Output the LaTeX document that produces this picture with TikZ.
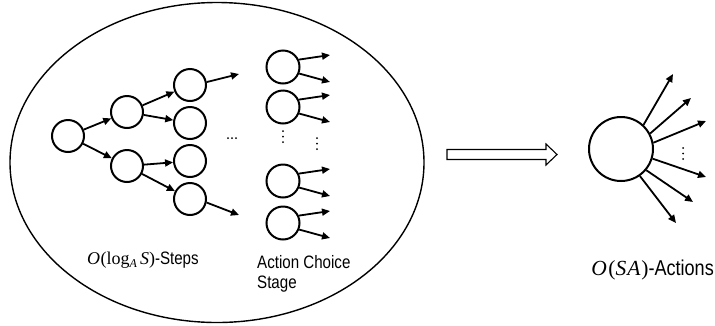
\documentclass[tikz,border=0pt]{standalone}
\usepackage[no-math]{fontspec}
\setmainfont[FakeStretch=0.84]{Liberation Sans}
\newfontfamily\mserif{Liberation Serif}
\newcommand{\myit}[1]{{\mserif\itshape #1}}
\newcommand{\myup}[1]{{\mserif #1}}
\usetikzlibrary{arrows.meta}
\begin{document}
\begin{tikzpicture}[x=1pt,y=-1pt,
  st/.style={circle,draw,line width=2pt,minimum size=32pt,inner sep=0pt},
  arr/.style={line width=1.8pt,-{Triangle[length=8pt,width=7pt]}},
  lab/.style={font=\fontsize{18}{20}\selectfont,inner sep=0pt}]
\useasboundingbox (0,0) rectangle (715,325);
% ellipse
\draw[line width=1.4pt] (217,162.5) ellipse [x radius=207, y radius=160];
% tree
\node[st] (r) at (68,136) {};
\node[st] (u) at (127,112) {};
\node[st] (d) at (127,166) {};
\node[st] (uu) at (190,85) {};
\node[st] (ud) at (190,123) {};
\node[st] (du) at (190,161) {};
\node[st] (dd) at (190,199) {};
\draw[arr] (r) -- (u);
\draw[arr] (r) -- (d);
\draw[arr] (u) -- (uu);
\draw[arr] (u) -- (ud);
\draw[arr] (d) -- (du);
\draw[arr] (d) -- (dd);
\coordinate (t1) at (239,74);
\coordinate (t2) at (239,215);
\draw[arr] (uu.10) -- (t1);
\draw[arr] (dd.-12) -- (t2);
\foreach \x in {228,232,236} \fill (\x,138) circle (1);
% action choice
\node[st,minimum size=33pt] (a1) at (283,67) {};
\node[st,minimum size=33pt] (a2) at (283,107) {};
\node[st,minimum size=33pt] (a3) at (283,181) {};
\node[st,minimum size=33pt] (a4) at (283,223) {};
\foreach \n/\y in {1/67,2/107,3/181,4/223}{
  \coordinate (p\n) at (330,\y-12);
  \coordinate (q\n) at (330,\y+15);
  \draw[arr] (a\n.25) -- (p\n);
  \draw[arr] (a\n.-22) -- (q\n);
}
\foreach \y in {131,136.5,142} \fill (283,\y) circle (1);
\foreach \y in {138,143.5,149} \fill (317,\y) circle (1);
% labels
\node[lab,anchor=west] (l1) at (87,260) {\myit{O}\myup{\kern0.5pt(log}\raisebox{-3.5pt}{\fontsize{12}{12}\selectfont\myit{A}}\,\myit{S}\myup{)}-Steps};
\node[lab,align=left,anchor=north west] (l2) at (257,255) {Action Choice\\Stage};
% hollow arrow
\draw[line width=1.1pt,fill=white] (447,149.5) -- (546,149.5) -- (546,144) -- (557,154.5) -- (546,165) -- (546,159.5) -- (447,159.5) -- cycle;
% big node
\node[circle,draw,line width=2pt,minimum size=64pt,inner sep=0pt] (b) at (621,149) {};
\coordinate (e1) at (673,74);
\coordinate (e2) at (691,98);
\coordinate (e3) at (706,121);
\coordinate (e4) at (706,177);
\coordinate (e5) at (693,202);
\coordinate (e6) at (676,223);
\draw[arr] (b.47) -- (e1);
\draw[arr] (b.28) -- (e2);
\draw[arr] (b.11) -- (e3);
\draw[arr] (b.-17) -- (e4);
\draw[arr] (b.-40) -- (e5);
\draw[arr] (b.-55) -- (e6);
\foreach \y in {148,153.5,159} \fill (683,\y) circle (1);
\node[lab,font=\fontsize{21.5}{23}\selectfont,anchor=east] (l3) at (714,270) {\myit{O}\kern1.5pt\myup{(}\myit{S\kern1pt A}\kern1pt\myup{)}-Actions};
\end{tikzpicture}
\end{document}
